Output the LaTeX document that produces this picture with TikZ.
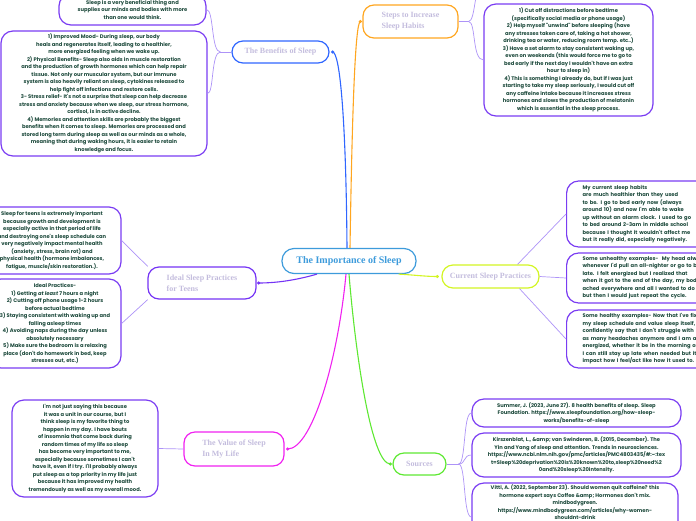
\documentclass[tikz,border=0pt]{standalone}
\usepackage{fontspec}
\usetikzlibrary{calc}
\newfontfamily\popfont{Poppins}
\newfontfamily\serfont{Liberation Serif}
\definecolor{boxv}{HTML}{7A3CF2}
\definecolor{lav}{HTML}{AD93F7}
\definecolor{txtg}{HTML}{1D4A3C}
\definecolor{toptxt}{HTML}{C3BCDD}
\definecolor{cblue}{HTML}{3D9BDB}
\definecolor{bblue}{HTML}{2F66FF}
\definecolor{sorange}{HTML}{FFA620}
\definecolor{ipurple}{HTML}{7433F5}
\definecolor{vmag}{HTML}{F022F0}
\definecolor{cyel}{HTML}{D3F523}
\definecolor{sgreen}{HTML}{5EE832}
\begin{document}
\begin{tikzpicture}[x=1pt,y=-1pt,
 leaf/.style={draw=boxv, line width=1.2pt, rounded corners=12pt, inner sep=0pt, text=txtg,
   font=\popfont\bfseries\fontsize{5.2}{7.5}\selectfont, align=center},
 leafl/.style={leaf, align=left, text width=180pt, inner xsep=16pt, inner ysep=0pt, anchor=west},
 topic/.style={line width=1.2pt, rounded corners=11pt, inner sep=0pt, text=toptxt,
   font=\serfont\bfseries\fontsize{8}{11}\selectfont},
 link/.style={draw=lav, line width=0.7pt},
 mainlink/.style={line width=1.1pt},
 knot/.style={radius=1.7pt}
]
\useasboundingbox (0,0) rectangle (696,520);
\clip (0,0) rectangle (696,520);

% central
\node[draw=cblue, line width=1.2pt, rounded corners=12pt, minimum width=134pt, minimum height=25pt,
  inner sep=0pt, text=cblue, font=\serfont\bfseries\fontsize{10}{12}\selectfont] (root) at (349,261) {The Importance of Sleep};

% topics
\node[topic, draw=bblue, minimum width=97pt, minimum height=22pt] (benefits) at (280.5,52) {The Benefits of Sleep};
\node[topic, draw=sorange, minimum width=95pt, minimum height=33pt, align=left] (steps) at (410.5,21.5) {Steps to Increase\\Sleep Habits};
\node[topic, draw=ipurple, minimum width=108pt, minimum height=32pt, align=left] (ideal) at (202,283) {Ideal Sleep Practices\\for Teens};
\node[topic, draw=vmag, minimum width=100pt, minimum height=34pt, align=left] (value) at (234,449) {The Value of Sleep\\In My Life};
\node[topic, draw=cyel, minimum width=97pt, minimum height=23pt] (current) at (490.5,276.5) {Current Sleep Practices};
\node[topic, draw=sgreen, minimum width=53pt, minimum height=22pt] (sources) at (419.5,464) {Sources};

% dots
\coordinate (bdot) at ($(benefits.east)+(3,0)$);
\coordinate (sdot) at ($(steps.west)+(-2,0)$);
\coordinate (idot) at ($(ideal.east)+(2,0)$);
\coordinate (vdot) at ($(value.east)+(3,0)$);
\coordinate (cdot) at ($(current.west)+(-4,0)$);
\coordinate (gdot) at ($(sources.west)+(-2,0)$);

\coordinate (rb) at ($(root.north)+(-2,0)$);
\coordinate (ro) at ($(root.north)+(1,0)$);
\coordinate (ri) at ($(root.south)+(-32,0)$);
\coordinate (rv) at ($(root.south)+(-3,0)$);
\coordinate (rg) at ($(root.south)+(0,0)$);
\coordinate (rc) at ($(root.south east)+(-18,0)$);

\draw[mainlink, bblue] (rb) .. controls (346,120) and (340,52) .. (bdot);
\fill[bblue] (bdot) circle[knot];
\draw[mainlink, sorange] (ro) .. controls (352,120) and (355,21.5) .. (sdot);
\fill[sorange] (sdot) circle[knot];
\draw[mainlink, ipurple] (ri) .. controls (300,279) and (280,283) .. (idot);
\fill[ipurple] (idot) circle[knot];
\draw[mainlink, vmag] (rv) .. controls (338,360) and (312,449) .. (vdot);
\fill[vmag] (vdot) circle[knot];
\draw[mainlink, sgreen] (rg) .. controls (356,360) and (372,464) .. (gdot);
\fill[sgreen] (gdot) circle[knot];
\draw[mainlink, cyel] (rc) .. controls (415,275) and (425,276.5) .. (cdot);
\fill[cyel] (cdot) circle[knot];

% benefits children
\node[leaf, minimum width=147pt, minimum height=31pt] (b1) at (132.5,9.5)
 {Sleep is a very beneficial thing and\\supplies our minds and bodies with more\\than one would think.};
\node[leaf, minimum width=206pt, minimum height=125pt] (b2) at (104,93.5)
 {1) Improved Mood- During sleep, our body\\
heals and regenerates itself, leading to a healthier,\\
more energized feeling when we wake up.\\
2) Physical Benefits- Sleep also aids in muscle restoration\\
and the production of growth hormones which can help repair\\
tissue. Not only our muscular system, but our immune\\
system is also heavily reliant on sleep, cytokines released to\\
help fight off infections and restore cells.\\
3- Stress relief- It's not a surprise that sleep can help decrease\\
stress and anxiety because when we sleep, our stress hormone,\\
cortisol, is in active decline.\\
4) Memories and attention skills are probably the biggest\\
benefits when it comes to sleep. Memories are processed and\\
stored long term during sleep as well as our minds as a whole,\\
meaning that during waking hours, it is easier to retain\\
knowledge and focus.};
\coordinate (bj) at ($(benefits.west)+(-11,0)$);
\draw[link] (benefits.west) -- (bj);
\draw[link] (bj) .. controls (211,52) and (214,10) .. (b1.east);
\draw[link] (bj) .. controls (211,52) and (214,93.5) .. (b2.east);

% steps child
\node[leaf, minimum width=169pt, minimum height=112pt] (sd) at (568.5,60)
 {1) Cut off distractions before bedtime\\
(specifically social media or phone usage)\\
2) Help myself "unwind" before sleeping (have\\
any stresses taken care of, taking a hot shower,\\
drinking tea or water, reducing room temp. etc..)\\
3) Have a set alarm to stay consistent waking up,\\
even on weekends (this would force me to go to\\
bed early if the next day I wouldn't have an extra\\
hour to sleep in)\\
4) This is something I already do, but if I was just\\
starting to take my sleep seriously, I would cut off\\
any caffeine intake because it increases stress\\
hormones and slows the production of melatonin\\
which is essential in the sleep process.};
\coordinate (sj) at ($(steps.east)+(10,0)$);
\coordinate (offtop) at (486,-30);
\draw[link] (steps.east) -- (sj);
\draw[link] (sj) .. controls (476,21.5) and (472,60) .. (sd.west);
\draw[link] (sj) .. controls (476,21.5) and (474,-20) .. (offtop);

% teens children
\node[leaf, minimum width=138pt, minimum height=67pt] (ta) at (52,240.5)
 {Sleep for teens is extremely important\\
because growth and development is\\
especially active in that period of life\\
and destroying one's sleep schedule can\\
very negatively impact mental health\\
(anxiety, stress, brain rot) and\\
physical health (hormone imbalances,\\
fatigue, muscle/skin restoration.).};
\node[leaf, minimum width=132pt, minimum height=89pt] (tb) at (55,323.5)
 {Ideal Practices-\\
1) Getting {\itshape at least} 7 hours a night\\
2) Cutting off phone usage 1-2 hours\\
before actual bedtime\\
3) Staying consistent with waking up and\\
falling asleep times\\
4) Avoiding naps during the day unless\\
absolutely necessary\\
5) Make sure the bedroom is a relaxing\\
place (don't do homework in bed, keep\\
stresses out, etc.)};
\draw[link] (ideal.163) -- (ta.east);
\draw[link] (ideal.197) -- (tb.east);

% value child
\node[leaf, minimum width=146pt, minimum height=97pt] (vb) at (85,448.5)
 {I'm not just saying this because\\
it was a unit in our course, but I\\
think sleep is my favorite thing to\\
happen in my day. I have bouts\\
of insomnia that come back during\\
random times of my life so sleep\\
has become very important to me,\\
especially because sometimes I can't\\
have it, even if I try. I'll probably always\\
put sleep as a top priority in my life just\\
because it has improved my health\\
tremendously as well as my overall mood.};
\draw[link] (value.west) -- (vb.east);

% current children
\node[leafl, minimum height=66pt] (c1) at (566,214)
 {My current sleep habits\\
are much healthier than they used\\
to be. I go to bed early now (always\\
around 10) and now I'm able to wake\\
up without an alarm clock. I used to go\\
to bed around 2-3am in middle school\\
because I thought it wouldn't affect me\\
but it really did, especially negatively.};
\node[leafl, minimum height=50pt] (c2) at (566,278)
 {Some unhealthy examples-\ \ My head always\\
whenever I'd pull an all-nighter or go to bed\\
late. I felt energized but I realized that\\
when it got to the end of the day, my body\\
ached everywhere and all I wanted to do\\
but then I would just repeat the cycle.};
\node[leafl, minimum height=58pt] (c3) at (566,339)
 {Some healthy examples- Now that I've fixed\\
my sleep schedule and value sleep itself, I\\
confidently say that I don't struggle with\\
as many headaches anymore and I am also\\
energized, whether it be in the morning or\\
I can still stay up late when needed but it\\
impact how I feel/act like how it used to.};
\draw[link] ($(current.north)+(27,0)$) -- (c1.west);
\draw[link] (current.east) -- (c2.west);
\draw[link] ($(current.south)+(29,0)$) -- (c3.west);

% sources children
\node[leaf, minimum width=209pt, minimum height=28pt] (s1) at (576.5,413)
 {Summer, J. (2023, June 27). 8 health benefits of sleep. Sleep\\
Foundation. https://www.sleepfoundation.org/how-sleep-\\
works/benefits-of-sleep};
\node[leaf, minimum width=209pt, minimum height=44pt] (s2) at (576.5,455)
 {Kirszenblat, L., \&amp; van Swinderen, B. (2015, December). The\\
Yin and Yang of sleep and attention. Trends in neurosciences.\\
https://www.ncbi.nlm.nih.gov/pmc/articles/PMC4803435/\#:\textasciitilde:tex\\
t=Sleep\%20deprivation\%20is\%20known\%20to,sleep\%20need\%2\\
0and\%20sleep\%20intensity.};
\node[leaf, minimum width=206pt, minimum height=68pt] (s3) at (575,517) {};
\node[anchor=north, inner sep=0pt, text=txtg, align=center,
  font=\popfont\bfseries\fontsize{5.2}{7.5}\selectfont] (s3t) at (575,485)
 {Vitti, A. (2022, September 23). Should women quit caffeine? this\\
hormone expert says Coffee \&amp; Hormones don't mix.\\
mindbodygreen.\\
https://www.mindbodygreen.com/articles/why-women-\\
shouldnt-drink};
\coordinate (gj) at ($(sources.east)+(12,0)$);
\draw[link] (sources.east) -- (gj);
\draw[link] (gj) .. controls (466,464) and (463,413) .. (s1.west);
\draw[link] (gj) .. controls (466,464) and (463,455) .. (s2.west);
\draw[link] (gj) .. controls (466,464) and (463,517) .. (s3.west);
\end{tikzpicture}
\end{document}
